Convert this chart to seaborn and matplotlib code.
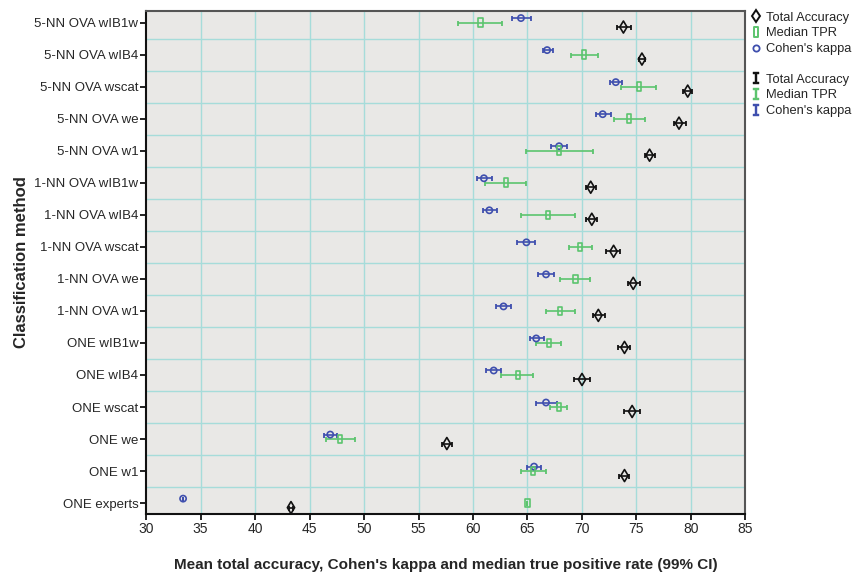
import numpy as np
import pandas as pd
import matplotlib
matplotlib.use("Agg")
import matplotlib.pyplot as plt
from matplotlib.lines import Line2D
from matplotlib.path import Path
from matplotlib.markers import MarkerStyle
import seaborn as sns

methods = ["5-NN OVA wIB1w", "5-NN OVA wIB4", "5-NN OVA wscat", "5-NN OVA we", "5-NN OVA w1",
           "1-NN OVA wIB1w", "1-NN OVA wIB4", "1-NN OVA wscat", "1-NN OVA we", "1-NN OVA w1",
           "ONE wIB1w", "ONE wIB4", "ONE wscat", "ONE we", "ONE w1", "ONE experts"]

acc = [73.8, 75.5, 79.7, 78.9, 76.2, 70.8, 70.9, 72.9, 74.7, 71.5, 73.9, 70.0, 74.6, 57.6, 73.9, 43.3]
acc_lo = [73.2, 75.2, 79.3, 78.4, 75.8, 70.4, 70.4, 72.2, 74.2, 71.0, 73.3, 69.3, 73.9, 57.2, 73.4, 43.1]
acc_hi = [74.5, 75.8, 80.1, 79.5, 76.7, 71.3, 71.4, 73.5, 75.3, 72.1, 74.4, 70.7, 75.3, 58.1, 74.3, 43.5]

tpr = [60.7, 70.2, 75.2, 74.3, 67.9, 63.0, 66.9, 69.8, 69.4, 68.0, 67.0, 64.1, 67.9, 47.8, 65.5, 65.0]
tpr_lo = [58.6, 69.0, 73.6, 72.9, 64.9, 61.1, 64.4, 68.8, 68.0, 66.7, 65.8, 62.6, 67.1, 46.5, 64.4, 65.0]
tpr_hi = [62.7, 71.5, 76.8, 75.8, 71.0, 64.9, 69.4, 70.9, 70.7, 69.4, 68.1, 65.5, 68.6, 49.2, 66.7, 65.0]

kappa = [64.4, 66.8, 73.1, 71.9, 67.9, 61.0, 61.5, 64.9, 66.7, 62.8, 65.8, 61.9, 66.7, 46.9, 65.6, 33.4]
kappa_lo = [63.6, 66.4, 72.6, 71.3, 67.2, 60.4, 60.9, 64.0, 66.0, 62.1, 65.2, 61.2, 65.8, 46.3, 65.0, 33.4]
kappa_hi = [65.3, 67.3, 73.7, 72.7, 68.6, 61.7, 62.2, 65.7, 67.4, 63.5, 66.5, 62.6, 67.7, 47.5, 66.2, 33.4]

x_ticks = [30, 35, 40, 45, 50, 55, 60, 65, 70, 75, 80, 85]

sns.set_theme(style="white")
plt.rcParams["font.family"] = ["Liberation Sans", "DejaVu Sans"]

BLACK = "#111111"
GREEN = "#5cc46e"
BLUE = "#3f4fae"
BG = "#e9e8e6"
GRID = "#a6dcda"

# tall open rectangle used for the median TPR marker
rect_path = Path([(-0.5, -1.0), (0.5, -1.0), (0.5, 1.0), (-0.5, 1.0), (-0.5, -1.0)],
                 [Path.MOVETO, Path.LINETO, Path.LINETO, Path.LINETO, Path.CLOSEPOLY])
rect_marker = MarkerStyle(rect_path)

series = [
    # name, values, lo, hi, colour, marker, size, vertical offset
    ("Cohen's kappa", kappa, kappa_lo, kappa_hi, BLUE, "o", 20, -0.14),
    ("Median TPR", tpr, tpr_lo, tpr_hi, GREEN, rect_marker, 38, 0.0),
    ("Total Accuracy", acc, acc_lo, acc_hi, BLACK, "d", 38, 0.14),
]

rows = []
for name, vals, lo, hi, col, mk, sz, off in series:
    for i, m in enumerate(methods):
        rows.append(dict(method=m, pos=i + off, measure=name,
                         value=vals[i], lo=lo[i], hi=hi[i]))
df = pd.DataFrame(rows)

fig = plt.figure(figsize=(8.55, 5.74), dpi=100)
ax = fig.add_axes([0.1708, 0.1045, 0.7011, 0.8763])
ax.set_facecolor(BG)

for v in x_ticks[1:-1]:
    ax.axvline(v, color=GRID, lw=1.0, zorder=0)
for k in range(len(methods) - 1):
    ax.axhline(k + 0.5, color=GRID, lw=1.0, zorder=0)

for name, vals, lo, hi, col, mk, sz, off in series:
    sub = df[df["measure"] == name]
    ax.errorbar(sub["value"], sub["pos"],
                xerr=[sub["value"] - sub["lo"], sub["hi"] - sub["value"]],
                fmt="none", ecolor=col, elinewidth=1.2, capsize=1.8, capthick=1.3, zorder=2)
    sns.scatterplot(data=sub, x="value", y="pos", ax=ax, marker=mk, s=sz,
                    facecolor="none", edgecolor=col, linewidth=1.2, zorder=3, legend=False)

ax.set_xlim(30, 85)
ax.set_ylim(len(methods) - 1 + 0.34, -0.36)
ax.set_xticks(x_ticks)
ax.set_xticklabels([str(t) for t in x_ticks], fontsize=10)
ax.set_yticks(range(len(methods)))
ax.set_yticklabels(methods, fontsize=9.5)
ax.tick_params(axis="both", direction="out", length=4, width=1.3, color=BLACK, pad=1.5,
               left=True, bottom=True)
for side in ["left", "bottom"]:
    ax.spines[side].set_color(BLACK)
    ax.spines[side].set_linewidth(1.5)
for side in ["top", "right"]:
    ax.spines[side].set_color("#555555")
    ax.spines[side].set_linewidth(1.5)

ax.set_xlabel("Mean total accuracy, Cohen's kappa and median true positive rate (99% CI)",
              fontsize=11, fontweight="bold", labelpad=16)
ax.set_ylabel("Classification method", fontsize=12, fontweight="bold", labelpad=4)

marker_handles = [
    Line2D([], [], ls="none", marker="d", ms=6, mfc="none", mec=BLACK, mew=1.4),
    Line2D([], [], ls="none", marker=rect_marker, ms=7, mfc="none", mec=GREEN, mew=1.4),
    Line2D([], [], ls="none", marker="o", ms=4.5, mfc="none", mec=BLUE, mew=1.3),
]
labels = ["Total Accuracy", "Median TPR", "Cohen's kappa"]
leg1 = fig.legend(marker_handles, labels, loc="upper left", bbox_to_anchor=(0.872, 0.989),
                  frameon=False, fontsize=9.3, handlelength=0.8, handletextpad=0.35,
                  labelspacing=0.3, borderaxespad=0)
bar_handles = [
    Line2D([], [], ls="none", marker="$\\mathtt{I}$", ms=8, color=c, mew=0.3)
    for c in (BLACK, GREEN, BLUE)
]
leg2 = fig.legend(bar_handles, labels, loc="upper left", bbox_to_anchor=(0.872, 0.881),
                  frameon=False, fontsize=9.3, handlelength=0.8, handletextpad=0.35,
                  labelspacing=0.3, borderaxespad=0)

fig.savefig("out.png", dpi=100)
